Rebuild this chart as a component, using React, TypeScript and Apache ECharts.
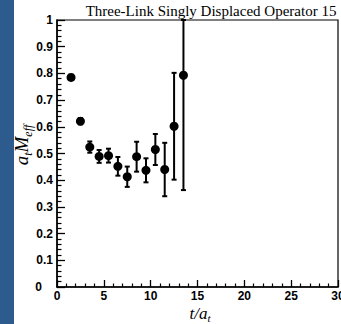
import React, { useEffect, useRef } from "react";
import * as echarts from "echarts";

// Effective mass plateau data: time slice, a_t M_eff and its statistical error
const tSlices = [1.5, 2.5, 3.5, 4.5, 5.5, 6.5, 7.5, 8.5, 9.5, 10.5, 11.5, 12.5, 13.5];
const mEff = [0.785, 0.621, 0.524, 0.489, 0.492, 0.452, 0.413, 0.488, 0.437, 0.515, 0.44, 0.602, 0.793];
const mErr = [0.01, 0.012, 0.021, 0.024, 0.026, 0.035, 0.038, 0.056, 0.045, 0.058, 0.1, 0.2, 0.43];

const chartTitle = "Three-Link Singly Displaced Operator 15";
const xTicks = [0, 5, 10, 15, 20, 25, 30];
const yMin = 0;
const yMax = 1;

const serif = "'Liberation Serif', 'Times New Roman', serif";
const sans = "'Liberation Sans', Arial, Helvetica, sans-serif";

export default function App() {
  const ref = useRef<HTMLDivElement>(null);

  useEffect(() => {
    if (!ref.current) return;
    const chart = echarts.init(ref.current, null, { renderer: "svg" });

    const points = tSlices.map((t, i) => [t, mEff[i]]);
    const bars = tSlices.map((t, i) => [
      t,
      mEff[i],
      Math.max(yMin, mEff[i] - mErr[i]),
      Math.min(yMax, mEff[i] + mErr[i]),
    ]);

    chart.setOption({
      animation: false,
      backgroundColor: "#ffffff",
      grid: {
        left: 57,
        right: 3,
        top: 20,
        bottom: 37,
        outerBoundsMode: "none",
        containLabel: false,
        show: true,
        borderColor: "#000",
        borderWidth: 1.2,
        backgroundColor: "#fff",
      },
      graphic: [
        {
          type: "rect",
          left: 0,
          top: 0,
          shape: { width: 14, height: 324 },
          style: { fill: "#2d5b8e" },
        },
        {
          type: "text",
          x: 211,
          y: 11,
          style: {
            text: chartTitle,
            font: `15px ${serif}`,
            fill: "#000",
            align: "center",
            verticalAlign: "middle",
          },
        },
        {
          type: "text",
          x: 21,
          y: 145,
          rotation: Math.PI / 2,
          style: {
            text: "{m|a}{s|t}{m|M}{s|eff}",
            align: "center",
            verticalAlign: "middle",
            fill: "#000",
            rich: {
              m: { fontFamily: serif, fontStyle: "italic", fontSize: 19, lineHeight: 26, verticalAlign: "middle" },
              s: { fontFamily: serif, fontStyle: "italic", fontSize: 12, lineHeight: 10, verticalAlign: "bottom" },
            },
          },
        },
        {
          type: "text",
          x: 200,
          y: 313,
          style: {
            text: "{m|t/a}{s|t}",
            align: "center",
            verticalAlign: "middle",
            fill: "#000",
            rich: {
              m: { fontFamily: serif, fontStyle: "italic", fontSize: 17, lineHeight: 20, verticalAlign: "middle" },
              s: { fontFamily: serif, fontStyle: "italic", fontSize: 11, lineHeight: 8, verticalAlign: "bottom" },
            },
          },
        },
      ],
      xAxis: {
        type: "value",
        min: xTicks[0],
        max: xTicks[xTicks.length - 1],
        interval: 5,
        axisLine: { show: true, onZero: false, lineStyle: { color: "#000", width: 1.5 } },
        axisTick: { show: true, inside: true, length: 7, lineStyle: { color: "#000", width: 1.3 } },
        minorTick: { show: true, splitNumber: 5, length: 3.5, lineStyle: { color: "#000", width: 1.2 } },
        splitLine: { show: false },
        axisLabel: {
          margin: 3,
          fontFamily: sans,
          fontWeight: "bold",
          fontSize: 12,
          color: "#000",
          showMaxLabel: true,
          showMinLabel: true,
          hideOverlap: false,
        },
      },
      yAxis: {
        type: "value",
        min: yMin,
        max: yMax,
        interval: 0.1,
        axisLine: { show: true, onZero: false, lineStyle: { color: "#000", width: 1.5 } },
        axisTick: { show: true, inside: true, length: 8, lineStyle: { color: "#000", width: 1.3 } },
        minorTick: { show: true, splitNumber: 5, length: 4.5, lineStyle: { color: "#000", width: 1.2 } },
        splitLine: { show: false },
        axisLabel: {
          margin: 4,
          fontFamily: sans,
          fontWeight: "bold",
          fontSize: 12,
          color: "#000",
          formatter: (v: number) => {
            if (Math.abs(v) < 1e-9) return "{z|0}";
            if (Math.abs(v - 1) < 1e-9) return "1";
            return v.toFixed(1);
          },
          rich: {
            z: { fontFamily: sans, fontWeight: "bold", fontSize: 12, color: "#000", padding: [0, 11, 0, 0] },
          },
        },
      },
      series: [
        {
          type: "custom",
          data: bars,
          encode: { x: 0, y: 1 },
          renderItem: (params: any, api: any) => {
            const x = api.value(0);
            const lo = api.coord([x, api.value(2)]);
            const hi = api.coord([x, api.value(3)]);
            const cap = 2.5;
            const style = { stroke: "#000", lineWidth: 2 };
            return {
              type: "group",
              children: [
                { type: "line", shape: { x1: lo[0], y1: lo[1], x2: hi[0], y2: hi[1] }, style },
                { type: "line", shape: { x1: hi[0] - cap, y1: hi[1], x2: hi[0] + cap, y2: hi[1] }, style },
                { type: "line", shape: { x1: lo[0] - cap, y1: lo[1], x2: lo[0] + cap, y2: lo[1] }, style },
              ],
            };
          },
          z: 2,
        },
        {
          type: "scatter",
          data: points,
          symbol: "circle",
          symbolSize: 9,
          itemStyle: { color: "#000", opacity: 1 },
          z: 3,
        },
      ],
    });

    return () => chart.dispose();
  }, []);

  return (
    <div
      ref={ref}
      style={{ position: "fixed", left: 0, top: 0, width: 341, height: 324, background: "#fff" }}
    />
  );
}
